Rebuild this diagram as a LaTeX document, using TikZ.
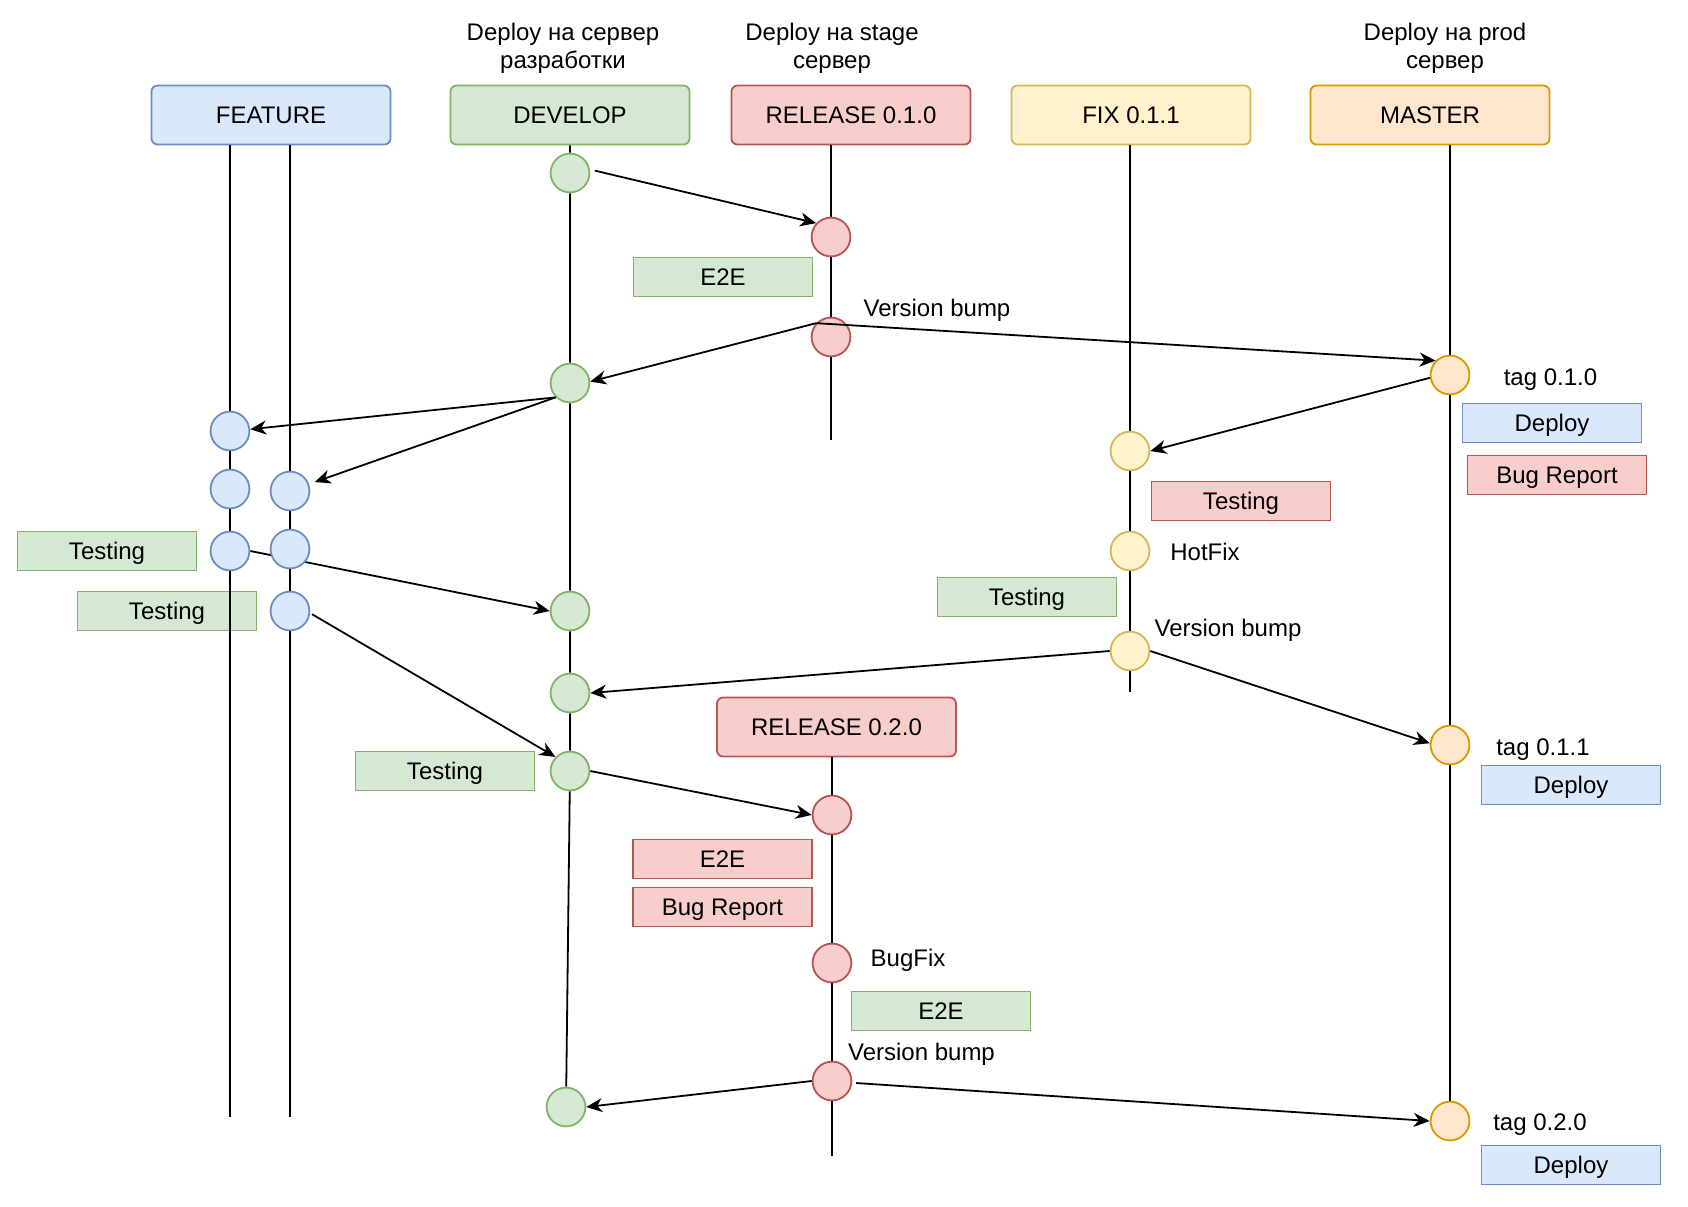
\documentclass[tikz,border=0pt]{standalone}
\usepackage{fontspec}
\setmainfont{Liberation Sans}
\usepackage{tikz}
\usetikzlibrary{arrows.meta,backgrounds}
\definecolor{featbg}{HTML}{dae8fc}
\definecolor{featfg}{HTML}{6c8ebf}
\definecolor{devbg}{HTML}{d5e8d4}
\definecolor{devfg}{HTML}{82b366}
\definecolor{relbg}{HTML}{f8cecc}
\definecolor{relfg}{HTML}{b85450}
\definecolor{fixbg}{HTML}{fff2cc}
\definecolor{fixfg}{HTML}{d6b656}
\definecolor{mastbg}{HTML}{ffe6cc}
\definecolor{mastfg}{HTML}{d79b00}

\begin{document}
\begin{tikzpicture}[x=0.5pt,y=-0.5pt,
  font=\fontsize{12pt}{14pt}\selectfont,
  note/.style={text height=11pt,text depth=2.2pt,inner sep=0pt},
  branch/.style={note,draw=#1fg,fill=#1bg,line width=0.9pt,rounded corners=3pt,minimum width=119.5pt,minimum height=29.5pt},
  commit/.style={circle,draw=#1fg,fill=#1bg,line width=0.9pt,minimum size=19.4pt,inner sep=0pt},
  stepbox/.style={note,draw=#1fg,fill=#1bg,line width=0.9pt,minimum width=89.5pt,minimum height=19.5pt},
  caption/.style={align=center,yshift=-1pt},
  life/.style={line width=0.9pt},
  arr/.style={line width=0.9pt,-{Stealth[length=8pt,width=7pt,inset=2.5pt]}}]
  \useasboundingbox (0,0) rectangle (1688,1206);
  % captions
  \node[caption] (capdev) at (563,46) {Deploy на сервер\\разработки};
  \node[caption] (capstage) at (832,46) {Deploy на stage\\сервер};
  \node[caption] (capprod) at (1445,46) {Deploy на prod\\сервер};
  % branches
  \node[branch=feat] (feature) at (271,115) {FEATURE};
  \node[branch=dev] (develop) at (570,115) {DEVELOP};
  \node[branch=rel] (release1) at (851,115) {RELEASE 0.1.0};
  \node[branch=fix] (fix) at (1131,115) {FIX 0.1.1};
  \node[branch=mast] (master) at (1430,115) {MASTER};
  \node[branch=rel] (release2) at (836.5,727) {RELEASE 0.2.0};
  % commits
  \node[commit=dev] (d1) at (570,173) {};
  \node[commit=dev] (d2) at (570,383) {};
  \node[commit=dev] (d3) at (570,611) {};
  \node[commit=dev] (d4) at (570,693) {};
  \node[commit=dev] (d5) at (570,771) {};
  \node[commit=dev] (d6) at (566,1107) {};
  \node[commit=rel] (r1) at (831,237) {};
  \node[commit=rel] (r2) at (831,337) {};
  \node[commit=rel] (r3) at (832,815) {};
  \node[commit=rel] (r4) at (832,963) {};
  \node[commit=rel] (r5) at (832,1081) {};
  \node[commit=fix] (f1) at (1130,451) {};
  \node[commit=fix] (f2) at (1130,551) {};
  \node[commit=fix] (f3) at (1130,651) {};
  \node[commit=mast] (m1) at (1450,375) {};
  \node[commit=mast] (m2) at (1450,745) {};
  \node[commit=mast] (m3) at (1450,1121) {};
  \node[commit=feat] (fa1) at (230,431) {};
  \node[commit=feat] (fa2) at (230,489) {};
  \node[commit=feat] (fa3) at (230,551) {};
  \node[commit=feat] (fb1) at (290,491) {};
  \node[commit=feat] (fb2) at (290,549) {};
  \node[commit=feat] (fb3) at (290,611) {};
  % steps
  \node[stepbox=dev] (e2e1) at (723,277) {E2E};
  \node[stepbox=feat] (deploy1) at (1552,423) {Deploy};
  \node[stepbox=rel] (bug1) at (1557,475) {Bug Report};
  \node[stepbox=rel] (test1) at (1241,501) {Testing};
  \node[stepbox=dev] (test2) at (1027,597) {Testing};
  \node[stepbox=feat] (deploy2) at (1571,785) {Deploy};
  \node[stepbox=dev] (test3) at (107,551) {Testing};
  \node[stepbox=dev] (test4) at (167,611) {Testing};
  \node[stepbox=dev] (test5) at (445,771) {Testing};
  \node[stepbox=rel] (e2e2) at (722.5,859) {E2E};
  \node[stepbox=rel] (bug2) at (722.5,907) {Bug Report};
  \node[stepbox=dev] (e2e3) at (941,1011) {E2E};
  \node[stepbox=feat] (deploy3) at (1571,1165) {Deploy};
  % notes
  \node[note] (bump1) at (937,308) {Version bump};
  \node[note] (tag1) at (1550.5,377) {tag 0.1.0};
  \node[note] (hotfix) at (1205,552) {HotFix};
  \node[note] (bump2) at (1228,628) {Version bump};
  \node[note] (tag2) at (1543,747) {tag 0.1.1};
  \node[note] (bugfix) at (908,958) {BugFix};
  \node[note] (bump3) at (921.5,1052) {Version bump};
  \node[note] (tag3) at (1540,1122) {tag 0.2.0};
  % lifelines
  \coordinate (feaend) at (230,1117);
  \coordinate (relend) at (831,440);
  \coordinate (fixend) at (1130,692);
  \coordinate (rel2end) at (832,1156);
  \draw[life] (feature.south -| fa1) -- (fa1) -- (fa2) -- (fa3) -- (fa3 |- feaend);
  \draw[life] (feature.south -| fb1) -- (fb1) -- (fb2) -- (fb3) -- (fb3 |- feaend);
  \draw[life] (develop.south -| d1) -- (d1) -- (d2) -- (d3) -- (d4) -- (d5) -- (d6);
  \draw[life] (release1.south -| r1) -- (r1) -- (r2) -- (relend);
  \draw[life] (fix.south -| f1) -- (f1) -- (f2) -- (f3) -- (fixend);
  \draw[life] (master.south -| m1) -- (m1) -- (m2) -- (m3);
  \draw[life] (release2.south -| r3) -- (r3) -- (r4) -- (r5) -- (rel2end);
  % merges
  \draw[arr,shorten <=2.5pt] (d1.10) -- (r1.137);
  \draw[arr] (r2.137) -- (d2.4);
  \draw[arr] (r2.137) -- (m1.135);
  \draw[arr] (m1.188) -- (f1.east);
  \draw[arr] (d2.225) -- (fa1.5);
  \draw[arr,shorten >=3pt] (d2.225) -- (fb1.20);
  \begin{pgfonlayer}{background}
    \draw[arr] (fa3.east) -- (d3.west);
  \end{pgfonlayer}
  \draw[arr,shorten <=1pt] (fb3.354) -- (d5.136);
  \draw[arr] (f3.west) -- (d4.east);
  \draw[arr] (f3.east) -- (m2.175);
  \draw[arr] (d5.east) -- (r3.west);
  \draw[arr] (r5.west) -- (d6.east);
  \draw[arr,shorten <=2pt] (r5.355) -- (m3.west);
\end{tikzpicture}
\end{document}
